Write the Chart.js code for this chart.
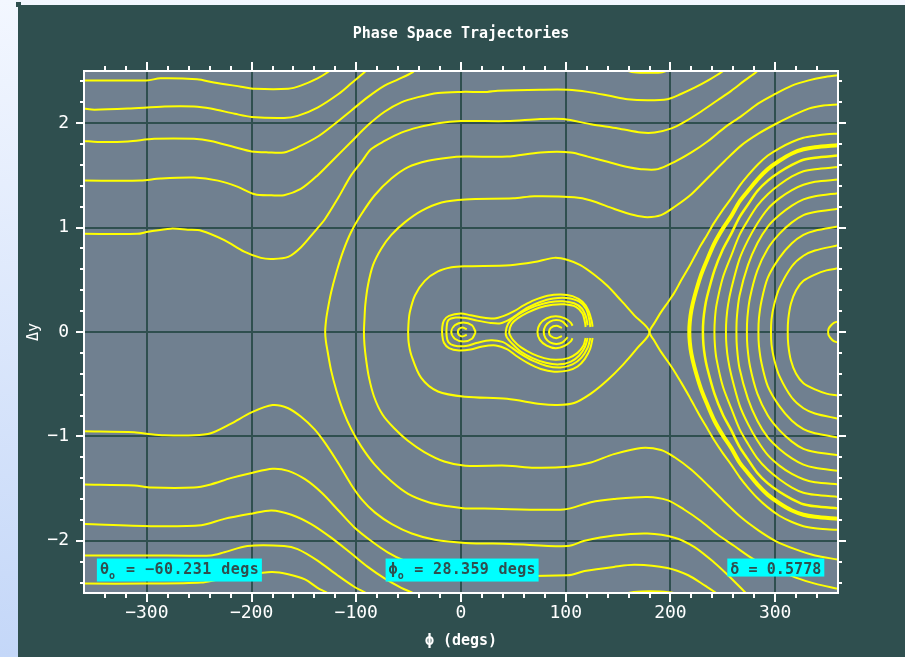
<!DOCTYPE html>
<html><head><meta charset="utf-8">
<script src="https://cdn.jsdelivr.net/npm/chart.js@4.4.1/dist/chart.umd.min.js"></script>
<style>
html,body{margin:0;padding:0;width:905px;height:657px;overflow:hidden;background:linear-gradient(#f3f7ff,#c4d7f8);}
#sq{position:absolute;left:16px;top:2px;width:5px;height:5px;background:#2F4F4F;}
#c{position:absolute;left:18px;top:5px;}
</style></head><body>
<div id="sq"></div>
<canvas id="c" width="887" height="652"></canvas>
<script>
// ---- axes / labels ----
const phiTicks = [-300,-200,-100,0,100,200,300];
const dyTicks = [-2,-1,0,1,2];
const titleText = 'Phase Space Trajectories';
const xTitle = '\u03D5 (degs)';
const yTitle = '\u0394y';
const annTexts = [
  {sym:'\u03B8', sub:'o', rest:' = \u221260.231 degs', phi:-347.7, w:165},
  {sym:'\u03D5', sub:'o', rest:' = 28.359 degs', phi:-72, w:153},
  {sym:'\u03B4', sub:'', rest:' = 0.5778', phi:254.3, w:97}
];

// ---- trajectories [phi (deg), dy] ----
const trajU1 = [[-360,2.41],[-300,2.41],[-287,2.43],[-252,2.42],[-236,2.39],[-210,2.35],[-197,2.33],[-165,2.33],[-153,2.36],[-137,2.43],[-127,2.49],[-120,2.55]];
const trajU1b = [[150,2.54],[163,2.49],[178,2.483],[192,2.488],[205,2.54]];
const trajU2 = [[-360,2.14],[-350,2.13],[-318,2.14],[-283,2.16],[-255,2.16],[-239,2.14],[-216,2.09],[-200,2.06],[-169,2.05],[-156,2.07],[-137,2.15],[-117,2.28],[-105,2.38],[-92,2.49],[-87,2.55]];
const trajU3 = [[-360,1.83],[-347,1.82],[-318,1.825],[-293,1.85],[-255,1.85],[-239,1.83],[-216,1.77],[-200,1.73],[-184,1.72],[-169,1.72],[-156,1.77],[-137,1.87],[-121,1.99],[-105,2.12],[-89,2.25],[-73,2.36],[-60,2.42],[-46,2.49],[-38,2.56]];
const trajU4 = [[-360,1.45],[-306,1.45],[-287,1.47],[-255,1.48],[-232,1.45],[-213,1.39],[-197,1.32],[-181,1.31],[-169,1.31],[-153,1.37],[-137,1.50],[-121,1.66],[-105,1.82],[-89,1.98],[-73,2.11],[-57,2.20],[-41,2.25],[-22,2.29],[0,2.30],[25,2.30],[35,2.31],[76,2.32],[102,2.32],[121,2.30],[143,2.26],[159,2.23],[178,2.22],[197,2.23],[210,2.28],[223,2.34],[236,2.41],[249,2.49],[256,2.55]];
const trajU5 = [[-360,0.94],[-309,0.94],[-299,0.96],[-277,0.99],[-261,0.98],[-248,0.97],[-226,0.88],[-207,0.77],[-191,0.71],[-180,0.70],[-165,0.72],[-153,0.81],[-140,0.96],[-130,1.08],[-117,1.29],[-105,1.50],[-95,1.63],[-86,1.75],[-73,1.83],[-57,1.91],[-41,1.96],[-22,2.00],[0,2.02],[44,2.02],[76,2.04],[98,2.04],[124,1.99],[150,1.95],[172,1.91],[185,1.91],[201,1.95],[213,2.01],[229,2.11],[245,2.22],[258,2.31],[271,2.41],[282,2.49],[288,2.55]];
const trajL1 = [[-360,-2.41],[-300,-2.41],[-248,-2.40],[-232,-2.37],[-207,-2.33],[-181,-2.30],[-165,-2.32],[-149,-2.37],[-137,-2.45],[-126,-2.51],[-120,-2.56]];
const trajL1b = [[148,-2.55],[160,-2.5],[172,-2.485],[190,-2.485],[203,-2.5],[215,-2.55]];
const trajL2 = [[-360,-2.14],[-300,-2.14],[-239,-2.14],[-226,-2.11],[-204,-2.05],[-169,-2.05],[-156,-2.08],[-137,-2.19],[-118,-2.33],[-102,-2.44],[-89,-2.51],[-84,-2.56]];
const trajL3 = [[-360,-1.84],[-296,-1.86],[-248,-1.85],[-226,-1.79],[-200,-1.74],[-181,-1.71],[-162,-1.75],[-143,-1.84],[-124,-1.97],[-105,-2.12],[-89,-2.25],[-73,-2.36],[-57,-2.45],[-44,-2.51],[-38,-2.56]];
const trajL4 = [[-360,-1.46],[-312,-1.47],[-296,-1.49],[-255,-1.49],[-239,-1.46],[-220,-1.40],[-200,-1.35],[-180,-1.31],[-165,-1.33],[-149,-1.41],[-133,-1.54],[-117,-1.71],[-102,-1.87],[-86,-2.00],[-70,-2.11],[-54,-2.19],[-35,-2.25],[-15,-2.30],[4,-2.33],[102,-2.33],[118,-2.29],[146,-2.25],[166,-2.23],[197,-2.26],[217,-2.33],[233,-2.43],[245,-2.51],[250,-2.56]];
const trajL5 = [[-360,-0.95],[-312,-0.96],[-296,-0.98],[-283,-0.99],[-255,-0.99],[-239,-0.97],[-220,-0.88],[-200,-0.77],[-180,-0.70],[-165,-0.73],[-153,-0.81],[-140,-0.93],[-130,-1.06],[-117,-1.26],[-105,-1.46],[-95,-1.60],[-82,-1.73],[-66,-1.84],[-47,-1.93],[-25,-1.99],[4,-2.02],[47,-2.03],[102,-2.05],[118,-2.00],[146,-1.95],[178,-1.93],[204,-1.97],[223,-2.06],[242,-2.21],[255,-2.33],[268,-2.46],[273,-2.51],[278,-2.56]];
const trajT130 = [[360,-2.46],[338,-2.41],[319,-2.35],[300,-2.27],[280,-2.18],[261,-2.05],[245,-1.94],[229,-1.81],[213,-1.70],[197,-1.61],[178,-1.58],[146,-1.60],[124,-1.63],[98,-1.70],[22,-1.69],[4,-1.69],[-12,-1.67],[-31,-1.63],[-50.5,-1.55],[-66.5,-1.43],[-82.4,-1.27],[-95,-1.10],[-104.8,-0.93],[-112.7,-0.75],[-119,-0.56],[-124,-0.37],[-127.5,-0.18],[-129,-0.09],[-129.7,0],[-129,0.1],[-127.7,0.19],[-124,0.38],[-119,0.57],[-112.7,0.77],[-104.8,0.96],[-95,1.13],[-82.4,1.31],[-66.5,1.47],[-50.5,1.58],[-31.4,1.64],[-12.3,1.67],[4,1.68],[44,1.68],[76,1.72],[105,1.72],[121,1.68],[140,1.63],[159,1.58],[172,1.56],[188,1.56],[204,1.63],[220,1.72],[236,1.83],[252,1.96],[268,2.07],[284,2.19],[300,2.28],[316,2.36],[332,2.41],[346,2.44],[360,2.46]];
const trajT93 = [[360,-2.18],[338,-2.14],[319,-2.08],[300,-2.00],[284,-1.90],[268,-1.78],[252,-1.63],[236,-1.47],[220,-1.32],[204,-1.20],[191,-1.13],[172,-1.11],[146,-1.17],[124,-1.25],[102,-1.29],[70,-1.30],[44,-1.28],[4,-1.28],[-16,-1.24],[-35,-1.15],[-51,-1.04],[-64,-0.92],[-75,-0.79],[-83,-0.62],[-88,-0.43],[-90.8,-0.25],[-92.2,-0.12],[-92.7,0],[-92.2,0.12],[-91.4,0.26],[-88.8,0.45],[-84,0.64],[-76,0.80],[-66.5,0.93],[-53.7,1.05],[-37.8,1.16],[-18.6,1.24],[4,1.27],[50,1.28],[70,1.30],[108,1.29],[124,1.26],[146,1.18],[165,1.12],[178,1.10],[191,1.12],[204,1.20],[220,1.32],[236,1.48],[252,1.64],[268,1.79],[284,1.90],[300,1.99],[316,2.07],[332,2.14],[346,2.17],[360,2.18]];
const trajSepIn = [[-50.5,0],[-50,0.1],[-48.9,0.19],[-44,0.35],[-34.6,0.49],[-22,0.58],[-9,0.62],[4,0.63],[47,0.64],[70,0.67],[89,0.71],[102,0.69],[114,0.64],[127,0.55],[140,0.44],[153,0.30],[165.5,0.16],[180,0],[168.7,-0.15],[155,-0.31],[140,-0.46],[124,-0.59],[108,-0.68],[92,-0.70],[76,-0.69],[44,-0.64],[4,-0.62],[-22,-0.57],[-38,-0.44],[-47.5,-0.22],[-50,-0.1],[-50.5,0]];
const trajSepOut = [[360,1.90],[349,1.895],[338,1.88],[327,1.86],[316,1.82],[304,1.76],[293,1.69],[283,1.60],[274,1.50],[266,1.40],[258,1.28],[250,1.17],[242,1.05],[235,0.93],[229,0.83],[223,0.72],[217,0.61],[210,0.49],[204,0.38],[198,0.29],[191,0.19],[185,0.09],[180,0],[185,-0.09],[191,-0.19],[198,-0.29],[204,-0.38],[210,-0.48],[217,-0.60],[223,-0.71],[229,-0.82],[235,-0.92],[242,-1.04],[250,-1.16],[258,-1.27],[266,-1.39],[274,-1.49],[283,-1.59],[293,-1.68],[304,-1.76],[316,-1.82],[327,-1.86],[338,-1.88],[349,-1.89],[360,-1.895]];
const trajA1 = [[360,1.79],[338,1.77],[327,1.75],[316,1.71],[304,1.64],[293,1.56],[283,1.46],[274,1.35],[266,1.25],[258,1.11],[250,0.99],[242,0.85],[235,0.69],[229,0.54],[223,0.34],[220,0.21],[218.5,0.1],[218,0],[218.5,-0.1],[220,-0.21],[223,-0.34],[229,-0.54],[235,-0.69],[242,-0.85],[250,-0.99],[258,-1.11],[266,-1.25],[274,-1.35],[283,-1.46],[293,-1.56],[304,-1.64],[316,-1.71],[327,-1.75],[338,-1.77],[360,-1.79]];
const trajA2 = [[360,1.69],[338,1.67],[327,1.65],[316,1.60],[304,1.53],[293,1.45],[283,1.35],[274,1.22],[266,1.10],[258,0.94],[250,0.79],[242,0.59],[235,0.34],[233,0.24],[231.5,0.12],[231,0],[231.5,-0.12],[233,-0.24],[235,-0.34],[242,-0.59],[250,-0.79],[258,-0.94],[266,-1.10],[274,-1.22],[283,-1.35],[293,-1.45],[304,-1.53],[316,-1.60],[327,-1.65],[338,-1.67],[360,-1.69]];
const trajA3 = [[360,1.58],[338,1.56],[327,1.54],[316,1.49],[304,1.41],[293,1.32],[283,1.21],[274,1.07],[266,0.93],[258,0.73],[250,0.52],[244,0.26],[242.5,0.13],[242,0],[242.5,-0.13],[244,-0.26],[250,-0.52],[258,-0.73],[266,-0.93],[274,-1.07],[283,-1.21],[293,-1.32],[304,-1.41],[316,-1.49],[327,-1.54],[338,-1.56],[360,-1.58]];
const trajA4 = [[360,1.46],[338,1.44],[327,1.41],[316,1.36],[304,1.28],[293,1.18],[283,1.04],[274,0.88],[266,0.70],[258,0.41],[255,0.26],[253.5,0.13],[253,0],[253.5,-0.13],[255,-0.26],[258,-0.41],[266,-0.70],[274,-0.88],[283,-1.04],[293,-1.18],[304,-1.28],[316,-1.36],[327,-1.41],[338,-1.44],[360,-1.46]];
const trajA5 = [[360,1.33],[338,1.30],[327,1.27],[316,1.21],[304,1.12],[293,1.01],[283,0.85],[274,0.64],[266,0.35],[263.5,0.15],[263,0],[263.5,-0.15],[266,-0.35],[274,-0.64],[283,-0.85],[293,-1.01],[304,-1.12],[316,-1.21],[327,-1.27],[338,-1.30],[360,-1.33]];
const trajA6 = [[360,1.18],[338,1.15],[327,1.12],[316,1.05],[304,0.94],[293,0.80],[283,0.59],[276,0.33],[273.5,0.14],[273,0],[273.5,-0.14],[276,-0.33],[283,-0.59],[293,-0.80],[304,-0.94],[316,-1.05],[327,-1.12],[338,-1.15],[360,-1.18]];
const trajA7 = [[360,1.01],[338,0.97],[327,0.93],[316,0.85],[304,0.71],[293,0.52],[287,0.30],[284.5,0.13],[284,0],[284.5,-0.13],[287,-0.30],[293,-0.52],[304,-0.71],[316,-0.85],[327,-0.93],[338,-0.97],[360,-1.01]];
const trajA8 = [[360,0.83],[338,0.78],[327,0.73],[316,0.63],[304,0.42],[299,0.26],[296.5,0.12],[296,0],[296.5,-0.12],[299,-0.26],[304,-0.42],[316,-0.63],[327,-0.73],[338,-0.78],[360,-0.83]];
const trajA9 = [[360,0.61],[349,0.59],[338,0.55],[327,0.49],[320,0.40],[315,0.27],[312.5,0.12],[312,0],[312.5,-0.12],[315,-0.27],[320,-0.40],[327,-0.49],[338,-0.55],[349,-0.59],[360,-0.61]];
const trajO360 = [[360,0.1],[356,0.088],[353,0.06],[351,0.03],[350.6,0],[351,-0.03],[353,-0.06],[356,-0.088],[360,-0.1]];
const trajP1 = [[125.7,0.05],[124.7,0.11],[121.5,0.21],[116,0.29],[106.5,0.344],[95.4,0.36],[82.6,0.347],[69.9,0.305],[60.3,0.257],[50.7,0.20],[41,0.154],[31.6,0.129],[18.8,0.141],[9.3,0.16],[-0.3,0.177],[-11.5,0.154],[-16.3,0.11],[-17.9,0.048],[-17.9,-0.032],[-16.3,-0.103],[-11.5,-0.154],[-1.9,-0.177],[9.3,-0.167],[20.4,-0.138],[33.2,-0.129],[44.3,-0.167],[52.3,-0.225],[63.5,-0.296],[76.2,-0.354],[89,-0.38],[101.8,-0.37],[111.3,-0.33],[118.3,-0.257],[123.4,-0.16],[125.7,-0.058]];
const trajP2 = [[123.5,0.048],[122.5,0.12],[119.5,0.22],[113,0.29],[101,0.325],[88,0.32],[75,0.285],[64,0.235],[54.5,0.175],[46.5,0.12],[38,0.084],[28.4,0.087],[15.6,0.109],[4.5,0.135],[-5.1,0.138],[-12.1,0.113],[-13.7,0.048],[-13.7,-0.039],[-12.1,-0.096],[-6.7,-0.129],[4.5,-0.135],[15.6,-0.103],[28.4,-0.08],[39.6,-0.095],[47,-0.14],[57,-0.21],[68.5,-0.275],[82,-0.325],[95,-0.34],[106.5,-0.31],[115,-0.245],[121,-0.15],[123.5,-0.058]];
const trajB2 = [[120.9,0.064],[119.3,0.145],[115.4,0.225],[108,0.275],[97,0.295],[84.2,0.285],[71.5,0.25],[60.3,0.2],[50.7,0.14],[45,0.08],[42.7,0],[43.6,-0.048],[49,-0.113],[57,-0.187],[68.3,-0.25],[81,-0.295],[93.8,-0.31],[105,-0.283],[112.9,-0.225],[118.3,-0.145],[120.9,-0.058]];
const trajB3 = [[119,0.048],[118.3,0.096],[116,0.177],[109.7,0.241],[98.6,0.265],[87.4,0.26],[74.6,0.232],[63.5,0.185],[54,0.13],[48.2,0.075],[46,0],[46.9,-0.032],[50,-0.08],[57,-0.145],[68.3,-0.209],[79.4,-0.25],[90.6,-0.267],[102.5,-0.25],[111.3,-0.2],[116.7,-0.135],[119,-0.058]];
const trajC3 = [[106.5,0.06],[104.8,0.09],[99.3,0.13],[90.5,0.15],[81.8,0.13],[75.3,0.075],[73,0],[75.3,-0.075],[81.8,-0.13],[90.5,-0.155],[99.3,-0.13],[104.8,-0.09],[106.5,-0.06]];
const trajC2 = [[101.9,0.049],[97,0.10],[91,0.115],[85,0.10],[80.6,0.058],[79,0],[80.6,-0.058],[85,-0.10],[91,-0.115],[97,-0.10],[101.9,-0.049]];
const trajC1 = [[96.4,0.039],[91,0.06],[85.6,0.039],[84,0],[85.6,-0.039],[91,-0.06],[96.4,-0.039]];
const trajR2 = [[14,0],[10.5,0.064],[2.3,0.09],[-5.9,0.064],[-9.3,0],[-5.9,-0.064],[2.3,-0.09],[10.5,-0.064],[14,0]];
const trajR1 = [[5.5,0.026],[1.5,0.042],[-2,0.028],[-3,0],[-2,-0.028],[1.5,-0.042],[5.5,-0.026]];

const series = [
  [trajU1,2],[trajU1b,2],[trajU2,2],[trajU3,2],[trajU4,2],[trajU5,2],
  [trajL1,2],[trajL1b,2],[trajL2,2],[trajL3,2],[trajL4,2],[trajL5,2],
  [trajT130,2],[trajT93,2],[trajSepIn,2],[trajSepOut,2],
  [trajA1,4],[trajA2,2.5],[trajA3,2],[trajA4,2],[trajA5,2],[trajA6,2],[trajA7,2],[trajA8,2],[trajA9,2],[trajO360,2],
  [trajP1,2],[trajP2,2],[trajB2,2],[trajB3,2],[trajC3,2],[trajC2,2],[trajC1,2],[trajR2,2],[trajR1,2]
];

const YEL = '#FFFF00', DARK = '#2F4F4F', PLOT = '#708090';
const MONO = '"DejaVu Sans Mono", monospace';
const fmt = v => v < 0 ? '\u2212' + Math.abs(v) : String(v);

function spacedText(ctx, s, x0, y0, extra) {
  let xx = x0;
  for (const ch of s) { ctx.fillText(ch, xx, y0); xx += ctx.measureText(ch).width + extra; }
  return xx;
}

const deco = {
  id: 'deco',
  beforeDraw(c) {
    const {ctx, chartArea: a} = c;
    ctx.save();
    ctx.fillStyle = DARK; ctx.fillRect(0, 0, c.width, c.height);
    ctx.fillStyle = PLOT; ctx.fillRect(a.left, a.top, a.right - a.left, a.bottom - a.top);
    ctx.restore();
  },
  afterDraw(c) {
    const {ctx, chartArea: a, scales: {x, y}} = c;
    ctx.save();
    // ticks (outward)
    ctx.strokeStyle = '#FFFFFF'; ctx.lineWidth = 2;
    ctx.beginPath();
    for (let v = -340; v <= 340; v += 20) {
      const px = Math.round(x.getPixelForValue(v));
      const L = (v % 100 === 0) ? 9 : 5;
      ctx.moveTo(px, a.bottom); ctx.lineTo(px, a.bottom + L);
      ctx.moveTo(px, a.top); ctx.lineTo(px, a.top - L);
    }
    for (let k = -12; k <= 12; k++) {
      const v = k * 0.2;
      const py = Math.round(y.getPixelForValue(v));
      const L = (k % 5 === 0) ? 8 : 4;
      ctx.moveTo(a.left, py); ctx.lineTo(a.left - L, py);
      ctx.moveTo(a.right, py); ctx.lineTo(a.right + L, py);
    }
    ctx.stroke();
    // frame
    ctx.strokeRect(a.left, a.top, a.right - a.left, a.bottom - a.top);
    // titles
    ctx.fillStyle = '#FFFFFF';
    ctx.font = 'bold 15px ' + MONO;
    ctx.textAlign = 'center'; ctx.textBaseline = 'middle';
    ctx.fillText(titleText, (a.left + a.right) / 2, 29);
    ctx.fillText(xTitle, (a.left + a.right) / 2, 636);
    ctx.save();
    ctx.translate(16, (a.top + a.bottom) / 2);
    ctx.rotate(-Math.PI / 2);
    ctx.font = '15px ' + MONO;
    ctx.fillText(yTitle, 0, 0);
    ctx.restore();
    // annotation boxes
    const top = y.getPixelForValue(-2.17);
    annTexts.forEach(t => {
      const left = x.getPixelForValue(t.phi);
      ctx.font = 'bold 15px ' + MONO;
      const w1 = ctx.measureText(t.sym).width;
      ctx.font = 'bold 10px ' + MONO;
      const w2 = t.sub ? ctx.measureText(t.sub).width + 1 : 0;
      ctx.font = 'bold 15px ' + MONO;
      const w3 = ctx.measureText(t.rest).width;
      const natural = w1 + w2 + w3 + 6;
      const n = [...t.rest].length;
      const extra = Math.max(0, (t.w - natural) / n);
      const h = t.sub ? 23 : 18;
      ctx.fillStyle = '#00FFFF';
      ctx.fillRect(left, top, t.w, h);
      ctx.fillStyle = DARK;
      ctx.textAlign = 'left'; ctx.textBaseline = 'alphabetic';
      const base = top + 15;
      ctx.fillText(t.sym, left + 3, base);
      if (t.sub) { ctx.font = 'bold 10px ' + MONO; ctx.fillText(t.sub, left + 3 + w1, base + 5); }
      ctx.font = 'bold 15px ' + MONO;
      spacedText(ctx, t.rest, left + 3 + w1 + w2 + extra, base, extra);
    });
    ctx.restore();
  }
};

new Chart(document.getElementById('c'), {
  type: 'scatter',
  data: {
    datasets: series.map(([arr, w]) => ({
      data: arr.map(([px, py]) => ({x: px, y: py})),
      showLine: true, pointRadius: 0, pointHoverRadius: 0,
      borderColor: YEL, borderWidth: w, tension: 0.3, fill: false
    }))
  },
  options: {
    responsive: false, animation: false, devicePixelRatio: 1,
    events: [],
    layout: {padding: {top: 66, right: 67, left: 0, bottom: 0}},
    plugins: {legend: {display: false}, tooltip: {enabled: false}, title: {display: false}},
    scales: {
      x: {
        type: 'linear', min: -360, max: 360,
        afterBuildTicks: ax => { ax.ticks = phiTicks.map(v => ({value: v})); },
        afterFit: ax => { ax.height = 64; },
        grid: {color: DARK, lineWidth: 2, drawTicks: false},
        border: {display: false},
        ticks: {color: '#FFFFFF', padding: 10, font: {family: MONO, size: 18}, callback: v => fmt(v), maxRotation: 0, autoSkip: false}
      },
      y: {
        type: 'linear', min: -2.5, max: 2.5,
        afterBuildTicks: ax => { ax.ticks = dyTicks.map(v => ({value: v})); },
        afterFit: ax => { ax.width = 66; },
        grid: {color: DARK, lineWidth: 2, drawTicks: false},
        border: {display: false},
        ticks: {color: '#FFFFFF', padding: 15, font: {family: MONO, size: 18}, callback: v => fmt(v), autoSkip: false}
      }
    }
  },
  plugins: [deco]
});
</script>
</body></html>
